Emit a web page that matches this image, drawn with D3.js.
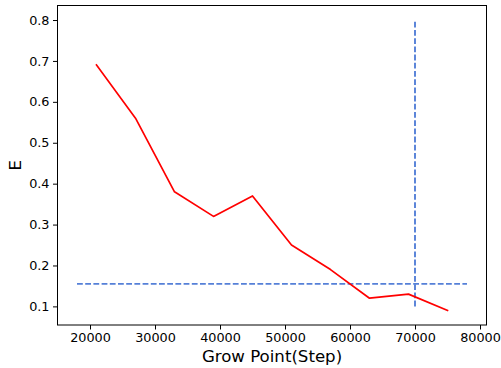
<!DOCTYPE html>
<html>
<head>
<meta charset="utf-8">
<script src="https://cdn.jsdelivr.net/npm/d3@7"></script>
<style>
html,body{margin:0;padding:0;background:#fff;}
svg{display:block;font-family:"DejaVu Sans",sans-serif;}
</style>
</head>
<body>
<svg id="chart" width="501" height="368"></svg>
<script>
const steps = [21000, 27000, 33000, 39000, 45000, 51000, 57000, 63000, 69000, 75000];
const eValues = [0.69, 0.56, 0.38, 0.32, 0.37, 0.25, 0.19, 0.12, 0.13, 0.09];
const hLineY = 0.155;
const hLineX = [18000, 78000];
const vLineX = 70000;
const vLineY = [0.1, 0.8];
const xTicks = [20000, 30000, 40000, 50000, 60000, 70000, 80000];
const yTicks = [0.1, 0.2, 0.3, 0.4, 0.5, 0.6, 0.7, 0.8];

const svg = d3.select("#chart");
const L = 57.5, R = 486.5, T = 5.5, B = 325;
const x = d3.scaleLinear().domain([15000, 81000]).range([L, R]);
const y = d3.scaleLinear().domain([0.0545, 0.8355]).range([B, T]);

const blue = "#5580d8";

// reference lines
svg.append("line")
  .attr("x1", x(hLineX[0])).attr("x2", x(hLineX[1]))
  .attr("y1", y(hLineY)).attr("y2", y(hLineY))
  .attr("stroke", blue).attr("stroke-width", 1.9).attr("stroke-dasharray", "5.8,2.4");
svg.append("line")
  .attr("x1", x(vLineX)).attr("x2", x(vLineX))
  .attr("y1", y(vLineY[0])).attr("y2", y(vLineY[1]))
  .attr("stroke", blue).attr("stroke-width", 1.9).attr("stroke-dasharray", "5.8,2.4");

// data line
const line = d3.line().x((d, i) => x(steps[i])).y(d => y(d));
svg.append("path").datum(eValues)
  .attr("d", line).attr("fill", "none")
  .attr("stroke", "#ff0000").attr("stroke-width", 1.7)
  .attr("stroke-linejoin", "round").attr("stroke-linecap", "square");

// axes
const xAxis = d3.axisBottom(x).tickValues(xTicks).tickFormat(d3.format("d")).tickSize(4.5).tickPadding(3.5);
const yAxis = d3.axisLeft(y).tickValues(yTicks).tickFormat(d3.format(".1f")).tickSize(4.5).tickPadding(3.5);

const gx = svg.append("g").attr("transform", `translate(0,${B})`).call(xAxis);
const gy = svg.append("g").attr("transform", `translate(${L},0)`).call(yAxis);
[gx, gy].forEach(g => {
  g.select(".domain").remove();
  g.selectAll("text").attr("font-family", "DejaVu Sans").attr("font-size", 12.8).attr("fill", "#000");
  g.selectAll("line").attr("stroke", "#000").attr("stroke-width", 1);
});

// frame
svg.append("rect").attr("x", L).attr("y", T).attr("width", R - L).attr("height", B - T)
  .attr("fill", "none").attr("stroke", "#000").attr("stroke-width", 1);

// labels
svg.append("text").attr("x", (L + R) / 2).attr("y", 362)
  .attr("text-anchor", "middle").attr("font-size", 16.6).attr("fill", "#000")
  .text("Grow Point(Step)");
svg.append("text").attr("transform", `translate(20.5,${(T + B) / 2}) rotate(-90)`)
  .attr("text-anchor", "middle").attr("font-size", 16.6).attr("fill", "#000")
  .text("E");
</script>
</body>
</html>
